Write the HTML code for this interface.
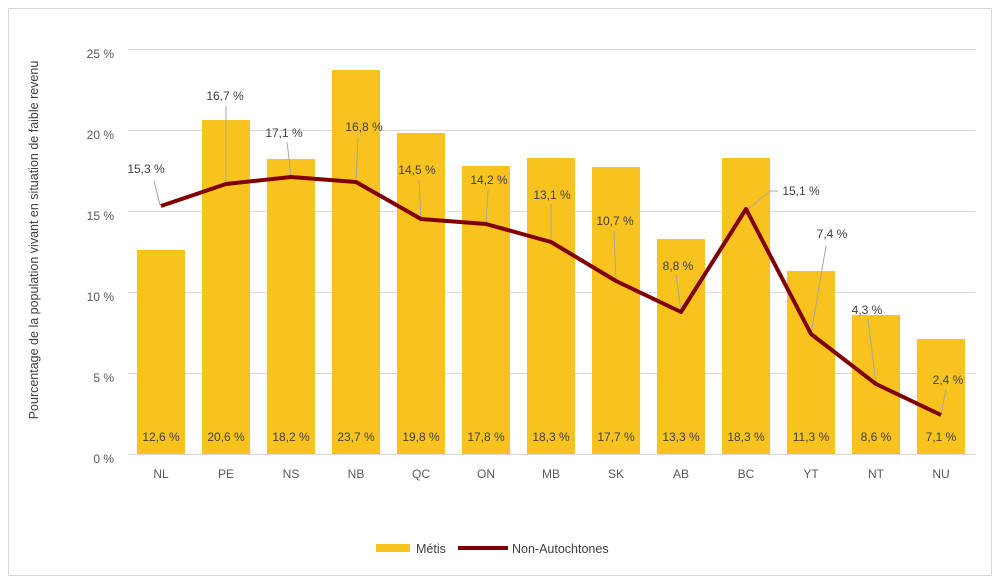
<!DOCTYPE html><html><head><meta charset="utf-8"><style>body{margin:0;background:#fff}svg{display:block;font-family:"Liberation Sans",sans-serif}</style></head><body>
<svg width="1000" height="584" viewBox="0 0 1000 584">
<rect x="8.5" y="8.5" width="983" height="567" fill="#fff" stroke="#d9d9d9"/>
<g stroke="#d9d9d9" stroke-width="1">
<line x1="128" x2="975" y1="49.5" y2="49.5"/><line x1="128" x2="975" y1="130.5" y2="130.5"/><line x1="128" x2="975" y1="211.5" y2="211.5"/><line x1="128" x2="975" y1="292.5" y2="292.5"/><line x1="128" x2="975" y1="373.5" y2="373.5"/><line x1="128" x2="975" y1="454.5" y2="454.5"/>
</g>
<g font-size="12" fill="#595959" text-anchor="end">
<text x="114" y="58">25 %</text><text x="114" y="139">20 %</text><text x="114" y="220">15 %</text><text x="114" y="301">10 %</text><text x="114" y="382">5 %</text><text x="114" y="463">0 %</text>
</g>
<text transform="translate(38,240) rotate(-90)" font-size="12.5" fill="#404040" text-anchor="middle">Pourcentage de la population vivant en situation de faible revenu</text>
<g fill="#f9c31f">
<rect x="137" y="250" width="48" height="204"/><rect x="202" y="120" width="48" height="334"/><rect x="267" y="159" width="48" height="295"/><rect x="332" y="70" width="48" height="384"/><rect x="397" y="133" width="48" height="321"/><rect x="462" y="166" width="48" height="288"/><rect x="527" y="158" width="48" height="296"/><rect x="592" y="167" width="48" height="287"/><rect x="657" y="239" width="48" height="215"/><rect x="722" y="158" width="48" height="296"/><rect x="787" y="271" width="48" height="183"/><rect x="852" y="315" width="48" height="139"/><rect x="917" y="339" width="48" height="115"/>
</g>
<g font-size="12" fill="#404040" text-anchor="middle">
<text x="161" y="441">12,6 %</text><text x="226" y="441">20,6 %</text><text x="291" y="441">18,2 %</text><text x="356" y="441">23,7 %</text><text x="421" y="441">19,8 %</text><text x="486" y="441">17,8 %</text><text x="551" y="441">18,3 %</text><text x="616" y="441">17,7 %</text><text x="681" y="441">13,3 %</text><text x="746" y="441">18,3 %</text><text x="811" y="441">11,3 %</text><text x="876" y="441">8,6 %</text><text x="941" y="441">7,1 %</text>
</g>
<g font-size="12" fill="#595959" text-anchor="middle">
<text x="161" y="478">NL</text><text x="226" y="478">PE</text><text x="291" y="478">NS</text><text x="356" y="478">NB</text><text x="421" y="478">QC</text><text x="486" y="478">ON</text><text x="551" y="478">MB</text><text x="616" y="478">SK</text><text x="681" y="478">AB</text><text x="746" y="478">BC</text><text x="811" y="478">YT</text><text x="876" y="478">NT</text><text x="941" y="478">NU</text>
</g>
<g stroke="#a6a6a6" stroke-width="1" fill="none">
<line x1="154" y1="181" x2="160" y2="205"/><line x1="226" y1="106" x2="226" y2="183"/><line x1="287" y1="142" x2="291" y2="176"/><line x1="358" y1="137" x2="356" y2="181"/><line x1="419" y1="180" x2="421" y2="219"/><line x1="488" y1="190" x2="486" y2="224"/><line x1="551" y1="204" x2="551" y2="241"/><line x1="614" y1="231" x2="616" y2="280"/><line x1="676" y1="275" x2="681" y2="311"/><polyline points="778,191 770,191 747,210"/><line x1="826" y1="246" x2="811" y2="334"/><line x1="868" y1="319" x2="876" y2="384"/><line x1="946" y1="389" x2="941" y2="415"/>
</g>
<polyline fill="none" stroke="#800000" stroke-width="4" stroke-linejoin="round" points="161,206 226,184 291,177 356,182 421,219 486,224 551,242 616,281 681,312 746,209 811,334 876,384 941,415"/>
<g font-size="12" fill="#404040" text-anchor="middle">
<text x="146" y="173">15,3 %</text><text x="225" y="100">16,7 %</text><text x="284" y="137">17,1 %</text><text x="364" y="131">16,8 %</text><text x="417" y="174">14,5 %</text><text x="489" y="184">14,2 %</text><text x="552" y="199">13,1 %</text><text x="615" y="225">10,7 %</text><text x="678" y="270">8,8 %</text><text x="801" y="195">15,1 %</text><text x="832" y="238">7,4 %</text><text x="867" y="314">4,3 %</text><text x="948" y="384">2,4 %</text>
</g>
<rect x="376" y="544" width="34" height="8" fill="#f9c31f"/>
<text x="416" y="553" font-size="12.5" fill="#404040">Métis</text>
<line x1="458" y1="548" x2="508" y2="548" stroke="#800000" stroke-width="4"/>
<text x="512" y="553" font-size="12.5" fill="#404040">Non-Autochtones</text>
</svg>
</body></html>
